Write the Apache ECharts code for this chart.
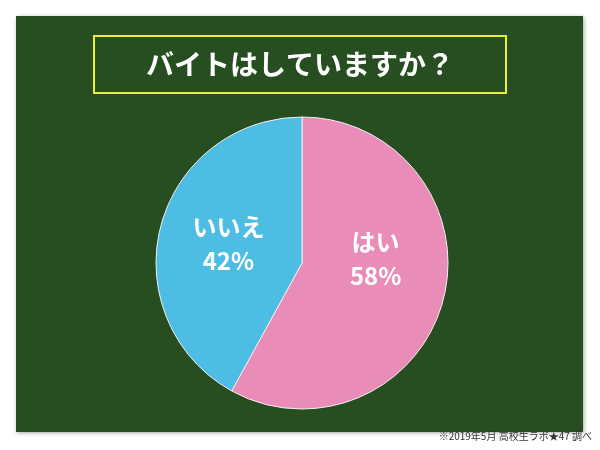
<!DOCTYPE html>
<html><head><meta charset="utf-8">
<script src="https://cdn.jsdelivr.net/npm/echarts@6/dist/echarts.min.js"></script>
<style>html,body{margin:0;padding:0;background:#fff}#c{width:600px;height:450px}</style>
</head><body><div id="c"></div>
<script>
const titleText = 'バイトはしていますか？';
const categories = ['はい', 'いいえ'];
const values = [58, 42];
const sliceColors = ['#ea8cb8', '#4dbde3'];
const footnote = '※2019年5月 高校生ラボ★47 調べ';

const chart = echarts.init(document.getElementById('c'));
const font = '"Noto Sans CJK JP", "Noto Sans", sans-serif';
chart.setOption({
  backgroundColor: '#ffffff',
  animation: false,
  graphic: [
    { type: 'rect', z: -10, shape: { x: 16, y: 16, width: 567, height: 416 },
      style: { fill: '#264e20', shadowBlur: 4, shadowColor: 'rgba(0,0,0,0.35)', shadowOffsetX: 1, shadowOffsetY: 1 } },
    { type: 'rect', z: -9, shape: { x: 94, y: 36, width: 412, height: 57 },
      style: { fill: 'none', stroke: '#eeee3a', lineWidth: 2 } },
    { type: 'text', right: 8, top: 431,
      style: { text: footnote, font: '10px ' + font, fill: '#333333' } }
  ],
  title: {
    text: titleText, left: 'center', top: 45,
    textStyle: { color: '#ffffff', fontSize: 28, fontWeight: 'bold', fontFamily: font }
  },
  series: [{
    type: 'pie',
    center: [302, 263],
    radius: 146,
    startAngle: 90,
    clockwise: true,
    itemStyle: { borderColor: '#f4eef0', borderWidth: 1 },
    label: {
      show: true, position: 'inside',
      formatter: p => '{a|' + p.name + '}\n{a|' + p.value + '%}' + (p.dataIndex === 0 ? '\n{s| }' : ''),
      color: '#ffffff', fontSize: 24, fontWeight: 'bold', fontFamily: font, lineHeight: 34,
      rich: {
        a: { color: '#ffffff', fontSize: 24, fontWeight: 'bold', fontFamily: font, lineHeight: 34 },
        s: { fontSize: 10, lineHeight: 46 }
      }
    },
    labelLine: { show: false },
    emphasis: { disabled: true },
    data: categories.map((c, i) => ({
      name: c, value: values[i], itemStyle: { color: sliceColors[i] }
    }))
  }]
});
</script></body></html>
